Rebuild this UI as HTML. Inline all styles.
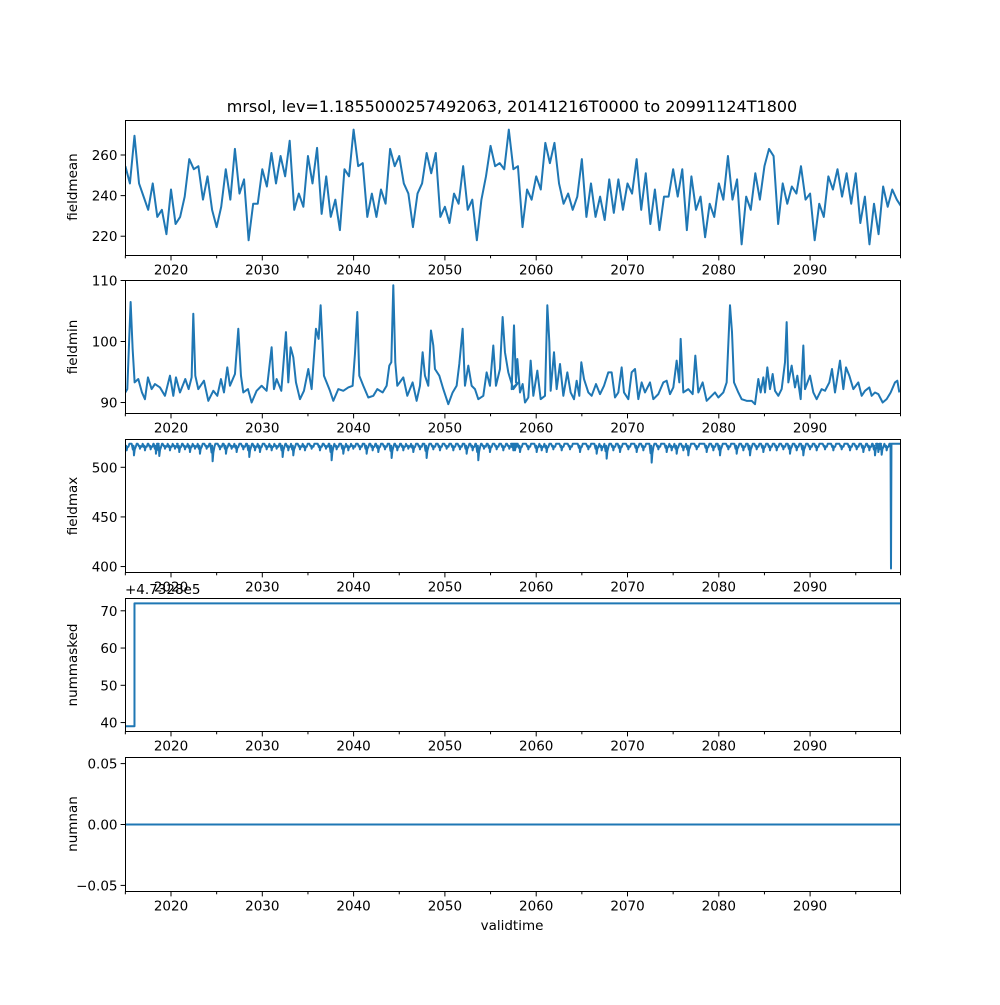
<!DOCTYPE html>
<html><head><meta charset="utf-8">
<style>
html,body{margin:0;padding:0;background:#fff;}
svg text{font-family:"DejaVu Sans","Liberation Sans",sans-serif;fill:#000;}
</style></head>
<body>
<svg id="chart" width="1000" height="1000" viewBox="0 0 1000 1000" xmlns="http://www.w3.org/2000/svg">
<rect width="1000" height="1000" fill="#fff"/>
<text x="512" y="112" font-size="16" text-anchor="middle">mrsol, lev=1.1855000257492063, 20141216T0000 to 20991124T1800</text>
<text x="512" y="930" font-size="13.5" text-anchor="middle">validtime</text>
<text x="125" y="594" font-size="13.5">+4.7328e5</text>
</svg>
<script>
// ---- data ----
const meanStart = 2015.0;
const meanStep = 0.5;
const fieldmean = [254.5,246,269.5,246,239.5,233,246,229.5,233,221,243,226,229.5,239.5,258,253,254.5,238,249.5,233,224.5,234.5,253,238,263,241,248,218,236,236,253,244.5,261,246,259.5,249.5,267,233,241,234.5,259.5,246,263.5,231,249.5,229.5,238,223,253,249.5,272.5,254.5,256,229.5,241,229.5,243,236,263,254.5,259.5,246,241,224.5,241,246,261,251,261,229.5,234.5,226.5,241,236,254.5,233,238,218,238,249.5,264.5,254.5,256,253,272.5,253,254.5,
224.5,243,238,249.5,243,266,256,266,246,236,241,233,239.5,258,229.5,246,229.5,239.5,228,248,231.5,248,233,246,241,258,233,251,226,243,223,239.5,239.5,253,239.5,253,223,249.5,233,239.5,219.5,236,229.5,246,238,259.5,238,248,216,239.5,233,251,238,254.5,263,259.5,226,246,236,244.5,241,254.5,238,241,218,236,229.5,249.5,243,253,239.5,251,236,251,226.5,239.5,216,236,221,244.5,234.5,243,238,234.5];

const minZx1 = [16,22,32,38,44,55,66,75,84,95,105,120,135,150,160,168,180,196,206,215,220,226,235,252,265,280,292,303,312,322,330,345,355,363,370,384,395,410,425,440,455,462,470,484,498,505,512,520,528,540,552,565,575,588,596,602,612,630,640,655,670,685,698,705,712,718,730,745,760,772,788,800,808,814,820,826,832,850,862,878,890,900,908,915,925,933,940,945,958,970,985,998,1010,1018,1028,1035,1045,1055,1065,1075,1090,1100,1110,1120,1128,1140,1148,1155,1165,1180,1195];
const minZy1 = [350,340,80,220,320,310,350,370,305,340,325,335,360,300,360,305,350,310,340,305,115,300,340,315,375,345,360,310,350,275,330,295,160,300,350,340,380,345,330,345,215,340,310,345,170,320,215,245,320,370,345,280,340,160,190,90,300,345,375,340,345,335,330,235,110,300,330,365,360,340,350,330,270,260,30,260,330,305,360,320,375,330,230,300,330,165,210,280,300,340,385,350,330,265,160,330,270,330,340,370,360,290,330,210,330,280,125,230,290,340,320];
const minZx2 = [5,12,18,22,30,38,45,55,62,70,82,92,105,112,118,122,132,140,150,160,172,182,192,200,208,214,222,235,245,258,270,282,295,305,315,325,335,342,355,365,375,385,395,405,420,430,445,460,470,480,490,500,508,512,520,535,548,556,565,578,590,605,615,625,640,650,660,666,672,685,695,710,725,735,745,752,760,765,772,780,788,795,805,815,825,830,835,845,855,862,872,880,885,900,910,920,935,945,958,966,975,990,1000,1008,1018,1030,1045,1055,1065,1078,1085,1095,1105,1118,1130,1142,1155,1162,1168];
const minZy2 = [340,150,320,250,350,325,380,365,255,360,285,370,360,90,200,345,230,340,265,360,290,350,370,315,360,260,310,350,360,325,355,330,290,290,365,350,275,350,370,290,280,370,320,350,320,370,355,320,315,355,335,255,320,190,350,340,355,240,350,320,375,360,350,365,350,320,90,170,320,350,370,375,375,385,310,350,305,350,275,340,295,345,360,340,260,140,320,270,335,300,370,210,340,300,350,370,340,345,320,280,350,255,340,275,300,340,320,360,345,335,360,350,355,380,370,350,320,315,350];

const maxBase = 523.7;
const dipZx1 = [20,42,60,75,92,108,118,135,150,165,178,195,210,225,240,260,278,300,318,335,350,370,388,405,420,440,455,470,488,505,520,540,555,575,600,618,635,650,670,685,700,720,740,758,775,795,815,832,850,865,880,900,920,940,960,980,1000,1020,1040,1058,1075,1092,1110,1130,1150,1168,1185];
const dipZy1 = [45,60,40,45,42,55,62,40,45,40,50,42,50,40,55,40,78,42,55,40,50,42,65,45,50,42,45,40,65,45,60,42,45,40,45,40,75,42,55,45,40,42,55,45,50,42,68,45,45,40,50,42,68,42,45,40,45,42,55,45,75,40,50,42,45,40,45];
const dipZx2 = [10,30,55,80,95,110,130,155,180,210,235,260,275,290,310,330,355,380,400,425,445,470,485,500,520,535,560,590,610,630,655,680,700,720,740,760,780,800,820,840,860,880,900,920,945,970,995,1020,1040,1060,1078,1095,1105,1115,1130,1143];
const dipZy2 = [45,50,42,50,45,50,42,45,42,50,42,55,45,70,45,50,42,50,45,82,42,50,45,55,45,60,42,50,45,60,42,55,45,60,42,50,45,45,42,55,45,60,42,45,42,45,42,45,42,50,45,60,50,58,45,380];

const maskYears = [2015.0, 2016.0, 2016.0, 2099.9];
const maskVals = [39, 39, 72, 72];
const nanYears = [2015.0, 2099.9];
const nanVals = [0, 0];

const xTickYears = [2020,2030,2040,2050,2060,2070,2080,2090];
const xMinorYears = [2015,2025,2035,2045,2055,2065,2075,2085,2095,2100];

function yr1(zx){return 2014.41 + zx/27.39;}
function yr2(zx){return 2057.13 + zx/27.39;}
const meanYears = fieldmean.map((v,i)=>meanStart+i*meanStep);
const minYears = minZx1.map(yr1).concat(minZx2.map(yr2));
const minVals = minZy1.concat(minZy2).map(z=>100-(z-198)/18.2);
const dipYears = dipZx1.map(yr1).concat(dipZx2.map(yr2));
const dipVals = dipZy1.concat(dipZy2).map(z=>z>300?398:maxBase-(z-25)/3);

const NS = "http://www.w3.org/2000/svg";
const svg = document.getElementById('chart');
const X0 = 125.5, X1 = 900.5;
function xs(year){return 171 + (year-2020)*9.13;}
function mk(tag, attrs){const e=document.createElementNS(NS,tag);for(const k in attrs)e.setAttribute(k,attrs[k]);return e;}

const panels = [
 {name:'fieldmean', top:120.5, bot:255.5, vmin:210.5, vmax:277, ticks:[220,240,260], labels:['220','240','260'], years:meanYears, vals:fieldmean, ly:187},
 {name:'fieldmin', top:280.5, bot:413.5, vmin:88.2, vmax:110, ticks:[90,100,110], labels:['90','100','110'], years:minYears, vals:minVals, ly:347},
 {name:'fieldmax', top:439.5, bot:572.5, vmin:394, vmax:528, ticks:[400,450,500], labels:['400','450','500'], years:null, vals:null, ly:506},
 {name:'nummasked', top:598.5, bot:731.5, vmin:37.6, vmax:73.3, ticks:[40,50,60,70], labels:['40','50','60','70'], years:maskYears, vals:maskVals, ly:665},
 {name:'numnan', top:757.5, bot:891.5, vmin:-0.055, vmax:0.055, ticks:[-0.05,0,0.05], labels:['\u22120.05','0.00','0.05'], years:nanYears, vals:nanVals, ly:824}
];

(function(){
  const ys=[2015.0], vs=[maxBase];
  dipYears.forEach((d,i)=>{
    const v=dipVals[i];
    if(v<450){ys.push(d-0.05,d,d+0.05);vs.push(maxBase,v,maxBase);return;}
    const mid=(maxBase+v)/2;
    ys.push(d-0.25,d-0.12,d-0.05,d,d+0.08,d+0.2,d+0.3);
    vs.push(maxBase,mid,maxBase-2,v,mid,maxBase-3,maxBase);
  });
  ys.push(2099.9); vs.push(maxBase);
  panels[2].years=ys; panels[2].vals=vs;
})();

panels.forEach((p,pi)=>{
  const g = mk('g',{});
  
  
  svg.appendChild(g);
  const ysc = v => p.bot - (v-p.vmin)/(p.vmax-p.vmin)*(p.bot-p.top);
  const clipId='clip'+pi;
  const cp = mk('clipPath',{id:clipId});
  cp.appendChild(mk('rect',{x:X0,y:p.top,width:X1-X0,height:p.bot-p.top}));
  g.appendChild(cp);
  let d='';
  p.years.forEach((yv,i)=>{d+=(i?'L':'M')+xs(yv).toFixed(2)+','+ysc(p.vals[i]).toFixed(2);});
  const line = mk('path',{d:d,fill:'none',stroke:'#1f77b4','stroke-width':2,'stroke-linejoin':'round','clip-path':'url(#'+clipId+')'});
  
  
  g.appendChild(line);
  const fr = mk('rect',{x:X0,y:p.top,width:X1-X0,height:p.bot-p.top,fill:'none',stroke:'#000','stroke-width':1});
  
  
  g.appendChild(fr);
  p.ticks.forEach((t,i)=>{
    const y=ysc(t);
    g.appendChild(mk('line',{x1:X0-4.9,x2:X0,y1:y,y2:y,stroke:'#000','stroke-width':1}));
    const tx=mk('text',{x:X0-8,y:y+5,'font-size':13.5,'text-anchor':'end'});
    tx.textContent=p.labels[i];
    
    
    g.appendChild(tx);
  });
  const yl=mk('text',{x:0,y:0,'font-size':13.5,'text-anchor':'middle',transform:'translate(77,'+p.ly+') rotate(-90)'});
  yl.textContent=p.name;
  
  
  g.appendChild(yl);
  xTickYears.forEach(t=>{
    const x=xs(t);
    g.appendChild(mk('line',{x1:x,x2:x,y1:p.bot,y2:p.bot+4.9,stroke:'#000','stroke-width':1}));
    const tx=mk('text',{x:x,y:p.bot+19,'font-size':13.5,'text-anchor':'middle'});
    tx.textContent=String(t);
    
    
    g.appendChild(tx);
  });
  xMinorYears.forEach(t=>{
    const x=Math.min(xs(t),X1);
    g.appendChild(mk('line',{x1:x,x2:x,y1:p.bot,y2:p.bot+2.8,stroke:'#000','stroke-width':1}));
  });
});
</script>
</body></html>
